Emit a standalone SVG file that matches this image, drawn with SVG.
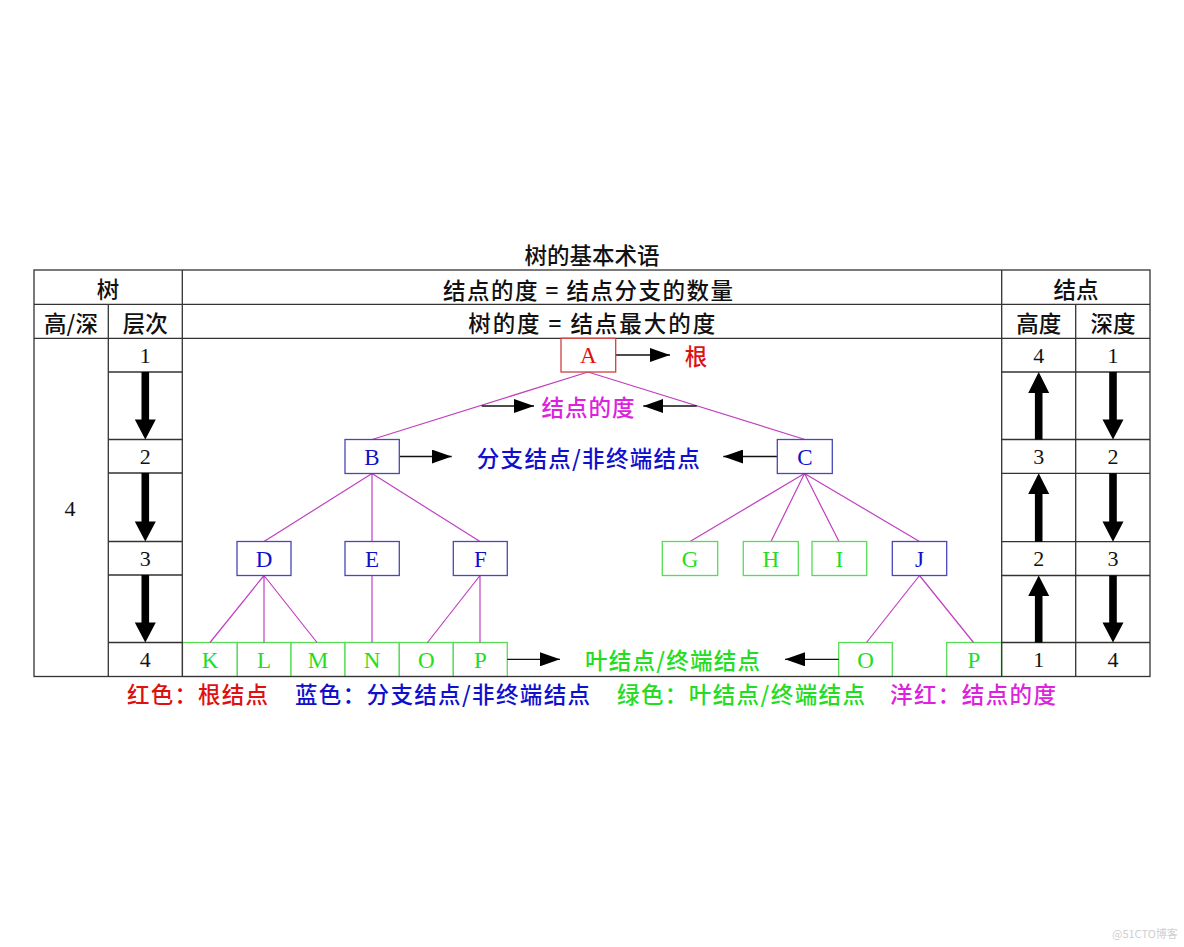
<svg xmlns="http://www.w3.org/2000/svg" width="1184" height="947" viewBox="0 0 1184 947">
<style>
.cjk{font-family:"Noto Sans CJK SC","Liberation Sans",sans-serif;font-size:22.5px;font-weight:500;dominant-baseline:central}
.num{font-family:"Liberation Serif",serif;font-size:22px;dominant-baseline:central;text-anchor:middle;fill:#111}
.mid{text-anchor:middle}
.grid{stroke:#333;stroke-width:1.3;fill:none}
.tree{stroke:#C040C0;stroke-width:1.2;fill:none}
.ptr{stroke:#111;stroke-width:1.3;fill:none;marker-end:url(#ah)}
.big{fill:#000}
.nb{fill:#fff;stroke:#4848B8;stroke-width:1.3}
.ng{fill:#fff;stroke:#55DD55;stroke-width:1.3}
.nr{fill:#fff;stroke:#D04040;stroke-width:1.3}
.lt{font-family:"Liberation Serif",serif;font-size:23px;dominant-baseline:central;text-anchor:middle}
.blue{fill:#1010CC}
.green{fill:#22DD22}
.red{fill:#E01010}
.mag{fill:#DD22DD}
</style>
<defs>
<marker id="ah" viewBox="0 0 20 14" refX="20" refY="7" markerWidth="20" markerHeight="14" markerUnits="userSpaceOnUse" orient="auto">
<path d="M0,0 L20,7 L0,14 z" fill="#000"/>
</marker>
</defs>
<rect width="1184" height="947" fill="#fff"/>

<text class="cjk mid" x="592" y="254" fill="#111">树的基本术语</text>

<g id="leaf-row-left">
<g id="node-K"><rect class="ng" x="182.5" y="642.5" width="54.8" height="34"/><text class="lt green" x="210" y="660">K</text></g>
<g id="node-L"><rect class="ng" x="237.3" y="642.5" width="53.7" height="34"/><text class="lt green" x="264" y="660">L</text></g>
<g id="node-M"><rect class="ng" x="291" y="642.5" width="54" height="34"/><text class="lt green" x="318" y="660">M</text></g>
<g id="node-N"><rect class="ng" x="345" y="642.5" width="54.3" height="34"/><text class="lt green" x="372" y="660">N</text></g>
<g id="node-O"><rect class="ng" x="399.3" y="642.5" width="54" height="34"/><text class="lt green" x="426.3" y="660">O</text></g>
<g id="node-P"><rect class="ng" x="453.3" y="642.5" width="54" height="34"/><text class="lt green" x="480.3" y="660">P</text></g>
</g>
<g id="node-O2"><rect class="ng" x="838.7" y="642.5" width="53.6" height="34"/><text class="lt green" x="865.5" y="660">O</text></g>
<g id="node-P2"><rect class="ng" x="946.7" y="642.5" width="54.8" height="34"/><text class="lt green" x="974" y="660">P</text></g>

<g id="table">
<rect class="grid" x="34" y="270" width="1116" height="406.5"/>
<line class="grid" x1="34" y1="304.3" x2="1150" y2="304.3"/>
<line class="grid" x1="34" y1="338.3" x2="1150" y2="338.3"/>
<line class="grid" x1="182.3" y1="270" x2="182.3" y2="676.5"/>
<line class="grid" x1="1001.7" y1="270" x2="1001.7" y2="676.5"/>
<line class="grid" x1="108.3" y1="304.3" x2="108.3" y2="676.5"/>
<line class="grid" x1="1075.7" y1="304.3" x2="1075.7" y2="676.5"/>
<path class="grid" d="M108.3,372H182.3M108.3,439.5H182.3M108.3,473H182.3M108.3,541.5H182.3M108.3,575H182.3M108.3,642.5H182.3"/>
<path class="grid" d="M1001.7,372H1150M1001.7,439.5H1150M1001.7,473.3H1150M1001.7,541.7H1150M1001.7,575.5H1150M1001.7,642.5H1150"/>
<text class="cjk mid" x="108" y="288" fill="#111">树</text>
<text class="cjk mid" x="588" y="288.5" fill="#111" textLength="290" xml:space="preserve">结点的度 = 结点分支的数量</text>
<text class="cjk mid" x="1076" y="288" fill="#111">结点</text>
<text class="cjk mid" x="71" y="322" fill="#111">高/深</text>
<text class="cjk mid" x="145.3" y="322" fill="#111">层次</text>
<text class="cjk mid" x="591.7" y="322" fill="#111" textLength="247" xml:space="preserve">树的度 = 结点最大的度</text>
<text class="cjk mid" x="1038.7" y="322" fill="#111">高度</text>
<text class="cjk mid" x="1113" y="322" fill="#111">深度</text>
<text class="num" x="70" y="508">4</text>
<text class="num" x="145.3" y="355">1</text>
<text class="num" x="145.3" y="456.5">2</text>
<text class="num" x="145.3" y="558.5">3</text>
<text class="num" x="145.3" y="659.5">4</text>
<text class="num" x="1038.7" y="355">4</text>
<text class="num" x="1038.7" y="456.5">3</text>
<text class="num" x="1038.7" y="558.5">2</text>
<text class="num" x="1038.7" y="659.5">1</text>
<text class="num" x="1113" y="355">1</text>
<text class="num" x="1113" y="456.5">2</text>
<text class="num" x="1113" y="558.5">3</text>
<text class="num" x="1113" y="659.5">4</text>
</g>

<g id="level-arrows">
<path class="big" d="M141.5,372V419.5H134.8L145.3,439.5L155.8,419.5H149.1V372z"/>
<path class="big" d="M141.5,473V521.5H134.8L145.3,541.5L155.8,521.5H149.1V473z"/>
<path class="big" d="M141.5,575V622.5H134.8L145.3,642.5L155.8,622.5H149.1V575z"/>
<path class="big" d="M1109.2,372V419.5H1102.5L1113,439.5L1123.5,419.5H1116.8V372z"/>
<path class="big" d="M1109.2,473.3V521.5H1102.5L1113,541.7L1123.5,521.5H1116.8V473.3z"/>
<path class="big" d="M1109.2,575.5V622.5H1102.5L1113,642.5L1123.5,622.5H1116.8V575.5z"/>
<path class="big" d="M1034.9,439.5V393H1028.2L1038.7,372L1049.2,393H1042.5V439.5z"/>
<path class="big" d="M1034.9,541.7V494H1028.2L1038.7,473.3L1049.2,494H1042.5V541.7z"/>
<path class="big" d="M1034.9,642.5V596H1028.2L1038.7,575.5L1049.2,596H1042.5V642.5z"/>
</g>

<g id="connectors">
<path class="tree" d="M588,372L372,439.5M588,372L805,439.5"/>
<path class="tree" d="M372,473.5L264,541.5M372,473.5L372,541.5M372,473.5L480,541.5"/>
<path class="tree" d="M804.5,473.5L690,541.5M804.5,473.5L771,541.5M804.5,473.5L839,541.5M804.5,473.5L919.5,541.5"/>
<path class="tree" d="M264,575.5L210,642.5M264,575.5L264,642.5M264,575.5L317,642.5"/>
<path class="tree" d="M372,575.5L372,642.5"/>
<path class="tree" d="M480,575.5L427.5,642.5M480,575.5L480,642.5"/>
<path class="tree" d="M919.5,575.5L866.5,642.5M919.5,575.5L973.5,642.5"/>
<line class="ptr" x1="615.7" y1="355" x2="670" y2="355"/>
<line class="ptr" x1="481.7" y1="406" x2="534" y2="406"/>
<line class="ptr" x1="696.7" y1="406" x2="643.3" y2="406"/>
<line class="ptr" x1="399.3" y1="456.5" x2="451.7" y2="456.5"/>
<line class="ptr" x1="777.3" y1="456.5" x2="723.3" y2="456.5"/>
<line class="ptr" x1="507.3" y1="659.3" x2="560" y2="659.3"/>
<line class="ptr" x1="838.7" y1="659.3" x2="785" y2="659.3"/>
</g>

<g id="node-A"><rect class="nr" x="561" y="338.3" width="54.7" height="33.7"/><text class="lt red" x="588.3" y="355.5">A</text></g>
<g id="node-B"><rect class="nb" x="345" y="439.5" width="54.3" height="34"/><text class="lt blue" x="372" y="457">B</text></g>
<g id="node-C"><rect class="nb" x="777.3" y="439.5" width="55" height="34"/><text class="lt blue" x="805" y="457">C</text></g>
<g id="node-D"><rect class="nb" x="237" y="541.5" width="54" height="34"/><text class="lt blue" x="264" y="559">D</text></g>
<g id="node-E"><rect class="nb" x="345" y="541.5" width="54.3" height="34"/><text class="lt blue" x="372" y="559">E</text></g>
<g id="node-F"><rect class="nb" x="453.3" y="541.5" width="54" height="34"/><text class="lt blue" x="480.3" y="559">F</text></g>
<g id="node-G"><rect class="ng" x="662.3" y="541.5" width="55.4" height="34"/><text class="lt green" x="690" y="559">G</text></g>
<g id="node-H"><rect class="ng" x="743.3" y="541.5" width="55" height="34"/><text class="lt green" x="770.8" y="559">H</text></g>
<g id="node-I"><rect class="ng" x="812" y="541.5" width="54.7" height="34"/><text class="lt green" x="839.3" y="559">I</text></g>
<g id="node-J"><rect class="nb" x="892.3" y="541.5" width="54.4" height="34"/><text class="lt blue" x="919.5" y="559">J</text></g>

<g id="labels">
<text class="cjk mid red" x="696" y="355">根</text>
<text class="cjk mid mag" x="588" y="406" textLength="93">结点的度</text>
<text class="cjk mid blue" x="588.3" y="456.5" textLength="223">分支结点/非终端结点</text>
<text class="cjk mid green" x="672.5" y="659.3" textLength="175">叶结点/终端结点</text>
</g>

<g id="legend">
<text class="cjk red" x="127" y="693" textLength="141">红色：根结点</text>
<text class="cjk blue" x="295" y="693" textLength="295">蓝色：分支结点/非终端结点</text>
<text class="cjk green" x="617" y="693" textLength="248">绿色：叶结点/终端结点</text>
<text class="cjk mag" x="890" y="693" textLength="166">洋红：结点的度</text>
</g>

<text x="1112" y="933" font-family="Noto Sans CJK SC, Liberation Sans, sans-serif" font-size="11" fill="#cfcfcf" dominant-baseline="central">@51CTO博客</text>
</svg>
